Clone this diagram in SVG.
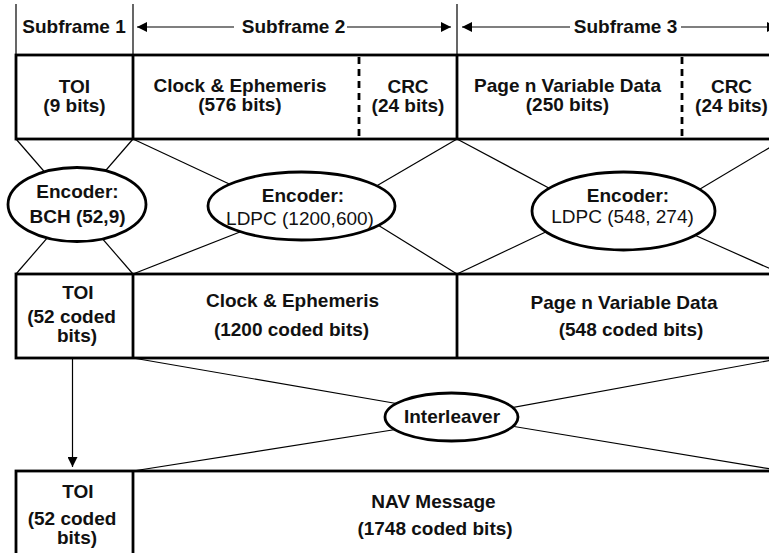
<svg xmlns="http://www.w3.org/2000/svg" width="769" height="553" viewBox="0 0 769 553">
  <defs>
    <marker id="head" viewBox="0 0 10 10" refX="10" refY="5" markerWidth="10" markerHeight="10" markerUnits="userSpaceOnUse" orient="auto-start-reverse">
      <path d="M0,0 L10,5 L0,10 Z" fill="#000"/>
    </marker>
    <style>
      .box { fill: #fff; stroke: #000; stroke-width: 2.8; }
      .div { stroke: #000; stroke-width: 2.8; }
      .dash { stroke: #000; stroke-width: 2.8; stroke-dasharray: 7 5; }
      .thin { stroke: #000; stroke-width: 1.2; fill: none; }
      .enc { fill: #fff; stroke: #000; stroke-width: 2.8; }
      text { font-family: "Liberation Sans", Arial, sans-serif; font-size: 19px; font-weight: bold; fill: #111; text-anchor: middle; }
      text.reg { font-weight: normal; }
    </style>
  </defs>
  <rect width="769" height="553" fill="#fff"/>

  <!-- subframe header -->
  <g id="header">
    <line class="thin" x1="16" y1="4" x2="16" y2="55"/>
    <line class="thin" x1="133" y1="4" x2="133" y2="55"/>
    <line class="thin" x1="457" y1="4" x2="457" y2="55"/>
    <text x="74" y="33">Subframe 1</text>
    <line class="thin" x1="137" y1="27" x2="234" y2="27" marker-start="url(#head)"/>
    <text x="293.5" y="33">Subframe 2</text>
    <line class="thin" x1="347" y1="27" x2="451" y2="27" marker-end="url(#head)"/>
    <line class="thin" x1="462" y1="27" x2="570" y2="27" marker-start="url(#head)"/>
    <text x="625.5" y="33">Subframe 3</text>
    <line class="thin" x1="681" y1="27" x2="777" y2="27" marker-end="url(#head)"/>
  </g>

  <!-- connectors -->
  <g id="connectors">
    <!-- BCH encoder -->
    <line class="thin" x1="16" y1="139" x2="133" y2="274"/>
    <line class="thin" x1="133" y1="139" x2="16" y2="274"/>
    <!-- LDPC (1200,600) -->
    <line class="thin" x1="133" y1="139" x2="240" y2="189"/>
    <line class="thin" x1="133" y1="274" x2="245" y2="230"/>
    <line class="thin" x1="457" y1="139" x2="373" y2="188"/>
    <line class="thin" x1="457" y1="274" x2="373" y2="222"/>
    <!-- LDPC (548, 274) -->
    <line class="thin" x1="457" y1="139" x2="560" y2="194"/>
    <line class="thin" x1="457" y1="274" x2="552" y2="229"/>
    <line class="thin" x1="784" y1="139" x2="690" y2="195"/>
    <line class="thin" x1="782" y1="274" x2="690" y2="233"/>
    <!-- interleaver -->
    <line class="thin" x1="133" y1="358" x2="405" y2="405"/>
    <line class="thin" x1="133" y1="471" x2="405" y2="428"/>
    <line class="thin" x1="783" y1="358" x2="505" y2="409"/>
    <line class="thin" x1="783" y1="471" x2="505" y2="425"/>
    <!-- TOI pass-through -->
    <line class="thin" x1="72.5" y1="359" x2="72.5" y2="467" marker-end="url(#head)"/>
  </g>

  <!-- raw subframe fields -->
  <g id="raw-fields">
    <rect class="box" x="16" y="55" width="767" height="84"/>
    <line class="div" x1="133" y1="55" x2="133" y2="139"/>
    <line class="div" x1="457" y1="55" x2="457" y2="139"/>
    <line class="dash" x1="359" y1="57" x2="359" y2="139"/>
    <line class="dash" x1="682" y1="57" x2="682" y2="139"/>
  </g>
  <g id="toi-raw">
    <text x="74.5" y="93">TOI</text>
    <text x="74.5" y="112">(9 bits)</text>
  </g>
  <g id="clock-raw">
    <text x="240" y="92">Clock &amp; Ephemeris</text>
    <text x="240" y="111">(576 bits)</text>
  </g>
  <g id="crc2">
    <text x="408" y="93">CRC</text>
    <text x="408" y="112">(24 bits)</text>
  </g>
  <g id="page-raw">
    <text x="567.5" y="92">Page n Variable Data</text>
    <text x="567.5" y="111">(250 bits)</text>
  </g>
  <g id="crc3">
    <text x="731.5" y="93">CRC</text>
    <text x="731.5" y="112">(24 bits)</text>
  </g>

  <!-- encoders -->
  <g id="enc-bch">
    <ellipse class="enc" cx="77" cy="204.5" rx="69" ry="37"/>
    <text x="77.5" y="198">Encoder:</text>
    <text x="77.5" y="223">BCH (52,9)</text>
  </g>
  <g id="enc-ldpc1">
    <ellipse class="enc" cx="301.5" cy="206" rx="93.5" ry="34"/>
    <text x="303" y="202">Encoder:</text>
    <text class="reg" x="300" y="225">LDPC (1200,600)</text>
  </g>
  <g id="enc-ldpc2">
    <ellipse class="enc" cx="623.5" cy="211" rx="91.5" ry="39"/>
    <text x="628" y="202">Encoder:</text>
    <text class="reg" x="622.5" y="223">LDPC (548, 274)</text>
  </g>

  <!-- coded fields -->
  <g id="coded-fields">
    <rect class="box" x="16" y="274" width="767" height="84"/>
    <line class="div" x1="133" y1="274" x2="133" y2="358"/>
    <line class="div" x1="457" y1="274" x2="457" y2="358"/>
  </g>
  <g id="toi-coded">
    <text x="78" y="299">TOI</text>
    <text x="71.5" y="323">(52 coded</text>
    <text x="77" y="342">bits)</text>
  </g>
  <g id="clock-coded">
    <text x="292.5" y="307">Clock &amp; Ephemeris</text>
    <text x="291.5" y="336">(1200 coded bits)</text>
  </g>
  <g id="page-coded">
    <text x="624" y="309">Page n Variable Data</text>
    <text x="631" y="336">(548 coded bits)</text>
  </g>

  <!-- interleaver -->
  <g id="interleaver">
    <ellipse class="enc" cx="451.5" cy="417" rx="66.5" ry="24"/>
    <text x="452" y="423">Interleaver</text>
  </g>

  <!-- output message -->
  <g id="nav-frame">
    <rect class="box" x="16" y="471" width="767" height="100"/>
    <line class="div" x1="133" y1="471" x2="133" y2="571"/>
  </g>
  <g id="toi-out">
    <text x="78" y="498">TOI</text>
    <text x="72" y="525">(52 coded</text>
    <text x="77" y="544">bits)</text>
  </g>
  <g id="nav-msg">
    <text x="433.5" y="508">NAV Message</text>
    <text x="435" y="535">(1748 coded bits)</text>
  </g>
</svg>
